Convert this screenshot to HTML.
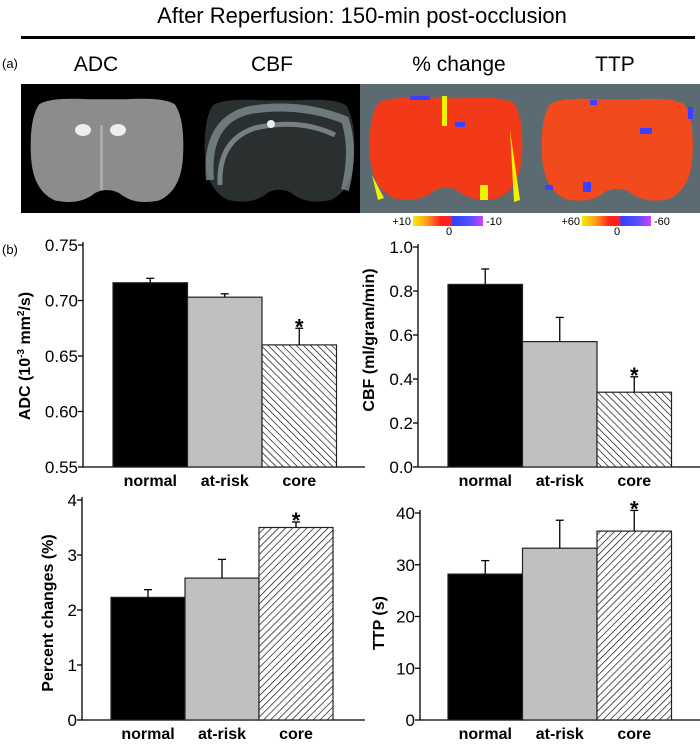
<!DOCTYPE html>
<html><head><meta charset="utf-8"><style>
body{margin:0;background:#fff;}
#root{position:relative;width:700px;height:744px;overflow:hidden;background:#fff;font-family:"Liberation Sans",sans-serif;}
</style></head><body>
<div id="root">
<svg id="svg" width="700" height="744" viewBox="0 0 700 744" style="position:absolute;left:0;top:0">
<defs>
<pattern id="hatchBack" patternUnits="userSpaceOnUse" width="5" height="5" patternTransform="rotate(-45)"><rect width="5" height="5" fill="#fff"/><line x1="0" y1="0" x2="0" y2="5" stroke="#000" stroke-width="1.3"/></pattern>
<pattern id="hatchFwd" patternUnits="userSpaceOnUse" width="5" height="5" patternTransform="rotate(45)"><rect width="5" height="5" fill="#fff"/><line x1="0" y1="0" x2="0" y2="5" stroke="#000" stroke-width="1.3"/></pattern>
<path id="brain" d="M10,10 Q20,0 60,3 L96,3 Q136,0 146,10 Q156,30 154,80 Q152,125 130,138 Q105,145 90,128 Q78,120 66,128 Q51,145 26,138 Q4,125 2,80 Q0,30 10,10 Z"/>
<linearGradient id="cb1" x1="0" x2="1"><stop offset="0" stop-color="#f0f000"/><stop offset="0.2" stop-color="#ff9a20"/><stop offset="0.4" stop-color="#ff2020"/><stop offset="0.55" stop-color="#ff2020"/><stop offset="0.56" stop-color="#3040ff"/><stop offset="0.8" stop-color="#5050ff"/><stop offset="1" stop-color="#d040ff"/></linearGradient>
</defs>
<text x="362" y="23" text-anchor="middle" font-size="22" font-family="Liberation Sans, sans-serif">After Reperfusion: 150-min post-occlusion</text>
<rect x="21" y="36" width="674" height="3" fill="#000"/>
<text x="2" y="68" font-size="13">(a)</text>
<text x="96" y="71" text-anchor="middle" font-size="21">ADC</text>
<text x="272" y="71" text-anchor="middle" font-size="21">CBF</text>
<text x="459" y="71" text-anchor="middle" font-size="21">% change</text>
<text x="615" y="71" text-anchor="middle" font-size="21">TTP</text>
<g>
<rect x="21" y="84" width="170" height="129" fill="#000"/>
<use href="#brain" transform="translate(29,97) scale(1,0.75)" fill="#8c8c8c"/>
<ellipse cx="83" cy="130" rx="8" ry="6" fill="#eee"/><ellipse cx="118" cy="130" rx="8" ry="6" fill="#eee"/>
<rect x="100" y="125" width="3" height="65" fill="#aaa"/>
</g>
<g>
<rect x="191" y="84" width="169" height="129" fill="#000"/>
<use href="#brain" transform="translate(203,98) scale(0.98,0.74)" fill="#2a3030"/>
<path d="M210,180 Q205,120 250,110 Q300,102 345,120 Q355,150 345,190" fill="none" stroke="#8a9a9c" stroke-width="8" opacity="0.7"/>
<path d="M220,185 Q218,140 255,128 Q300,118 335,135" fill="none" stroke="#a8b8b8" stroke-width="5" opacity="0.6"/>
<circle cx="271" cy="124" r="4" fill="#eee"/>
</g>
<g>
<rect x="360" y="84" width="340" height="129" fill="#5c6b71"/>
<use href="#brain" transform="translate(368,96) scale(1.0,0.74)" fill="#f23a18"/>
<use href="#brain" transform="translate(540,97) scale(0.99,0.74)" fill="#f24a1c"/>
<rect x="442" y="96" width="5" height="30" fill="#f0f000"/>
<path d="M372,175 L378,200 L384,198 Z" fill="#f0f000"/><path d="M510,130 L520,200 L514,202 Z" fill="#f0f000"/>
<rect x="480" y="185" width="8" height="15" fill="#f0f000"/><rect x="410" y="96" width="20" height="4" fill="#3a40ff"/>
<rect x="455" y="122" width="10" height="5" fill="#3a40ff"/><rect x="640" y="128" width="12" height="6" fill="#3a40ff"/>
<rect x="688" y="107" width="5" height="12" fill="#3a40ff"/><rect x="545" y="185" width="8" height="5" fill="#3a40ff"/>
<rect x="583" y="182" width="8" height="10" fill="#3a40ff"/><rect x="590" y="100" width="7" height="5" fill="#3a40ff"/>
</g>
<g font-size="11">
<rect x="413" y="216" width="70" height="10" fill="url(#cb1)"/>
<text x="411" y="225" text-anchor="end">+10</text><text x="486" y="225">-10</text><text x="449" y="235" text-anchor="middle">0</text>
</g>
<g font-size="11">
<rect x="582" y="216" width="69" height="10" fill="url(#cb1)"/>
<text x="580" y="225" text-anchor="end">+60</text><text x="654" y="225">-60</text><text x="617" y="235" text-anchor="middle">0</text>
</g>
<text x="2" y="254" font-size="13">(b)</text>
<g id="charts"></g>
</svg>
</div>
<script>
const categories = ["normal", "at-risk", "core"];
const adcValues = [0.716, 0.703, 0.660];
const adcErrors = [0.004, 0.003, 0.015];
const adcTicks = ["0.55", "0.60", "0.65", "0.70", "0.75"];
const cbfValues = [0.83, 0.57, 0.34];
const cbfErrors = [0.07, 0.11, 0.07];
const cbfTicks = ["0.0", "0.2", "0.4", "0.6", "0.8", "1.0"];
const pctValues = [2.23, 2.58, 3.50];
const pctErrors = [0.14, 0.34, 0.10];
const pctTicks = ["0", "1", "2", "3", "4"];
const ttpValues = [28.2, 33.2, 36.5];
const ttpErrors = [2.6, 5.4, 4.0];
const ttpTicks = ["0", "10", "20", "30", "40"];
const sigFlags = [false, false, true];

const NS = "http://www.w3.org/2000/svg";
const host = document.getElementById("charts");
function mk(tag, attrs, parent){const e=document.createElementNS(NS,tag);for(const k in attrs)e.setAttribute(k,attrs[k]);parent.appendChild(e);return e;}

function drawChart(id, cfg, values, errors, ticks){
  const g = mk("g", {}, host);
  
  
  const lo = parseFloat(ticks[0]), hi = parseFloat(ticks[ticks.length-1]);
  const y = v => cfg.y0 - (v - lo) / (hi - lo) * (cfg.y0 - cfg.yTop);
  const axY = mk("line", {x1:cfg.ax, y1:cfg.yTop-3, x2:cfg.ax, y2:cfg.y0, stroke:"#000","stroke-width":1.3}, g);
  
  
  const axX = mk("line", {x1:cfg.ax, y1:cfg.y0, x2:cfg.xEnd, y2:cfg.y0, stroke:"#000","stroke-width":1.3}, g);
  
  
  ticks.forEach(t => {
    const ty = y(parseFloat(t));
    mk("line", {x1:cfg.ax-5, y1:ty, x2:cfg.ax, y2:ty, stroke:"#000","stroke-width":1.3}, g);
    const tx = mk("text", {x:cfg.ax-5, y:ty+6, "text-anchor":"end","font-size":17}, g);
    tx.textContent = t;
    
    
  });
  const fills = ["#000", "#c0c0c0", cfg.hatch];
  values.forEach((v, i) => {
    const x0 = cfg.bx + i * cfg.bw;
    const top = y(v);
    const b = mk("rect", {x:x0, y:top, width:cfg.bw, height:cfg.y0-top, fill:fills[i], stroke:"#222","stroke-width":1.2}, g);
    
    
    const cx = x0 + cfg.bw/2, ey = y(v + errors[i]);
    const e1 = mk("line", {x1:cx, y1:top, x2:cx, y2:ey, stroke:"#000","stroke-width":1.3}, g);
    
    
    mk("line", {x1:cx-4, y1:ey, x2:cx+4, y2:ey, stroke:"#000","stroke-width":1.3}, g);
    if (sigFlags[i]) {
      const s = mk("text", {x:cx, y:ey+6, "text-anchor":"middle","font-size":22,"font-weight":"bold"}, g);
      s.textContent = "*";
      
      
    }
    const lb = mk("text", {x:cx, y:cfg.y0+19, "text-anchor":"middle","font-size":16,"font-weight":"bold"}, g);
    lb.textContent = categories[i];
    
    
  });
  const ti = mk("text", {x:0, y:0, "text-anchor":"middle","font-size":16,"font-weight":"bold",transform:`translate(${cfg.tx},${cfg.ty}) rotate(-90)`}, g);
  ti.innerHTML = cfg.title;
  
  
}

drawChart("adc", {ax:83, yTop:245, y0:467, xEnd:365, bx:113, bw:74.5, hatch:"url(#hatchBack)", tx:30, ty:356,
  title:'ADC (10<tspan dy="-6" font-size="10">-3</tspan><tspan dy="6"> mm</tspan><tspan dy="-6" font-size="10">2</tspan><tspan dy="6">/s)</tspan>'}, adcValues, adcErrors, adcTicks);
drawChart("cbf", {ax:418, yTop:247, y0:467, xEnd:700, bx:448, bw:74.5, hatch:"url(#hatchBack)", tx:374, ty:340,
  title:'CBF (ml/gram/min)'}, cbfValues, cbfErrors, cbfTicks);
drawChart("percent-change", {ax:82, yTop:500, y0:720, xEnd:365, bx:111, bw:74, hatch:"url(#hatchFwd)", tx:53, ty:613,
  title:'Percent changes (%)'}, pctValues, pctErrors, pctTicks);
drawChart("ttp", {ax:420, yTop:513, y0:720, xEnd:700, bx:448, bw:74.5, hatch:"url(#hatchFwd)", tx:384, ty:623,
  title:'TTP (s)'}, ttpValues, ttpErrors, ttpTicks);
</script>
</body></html>
